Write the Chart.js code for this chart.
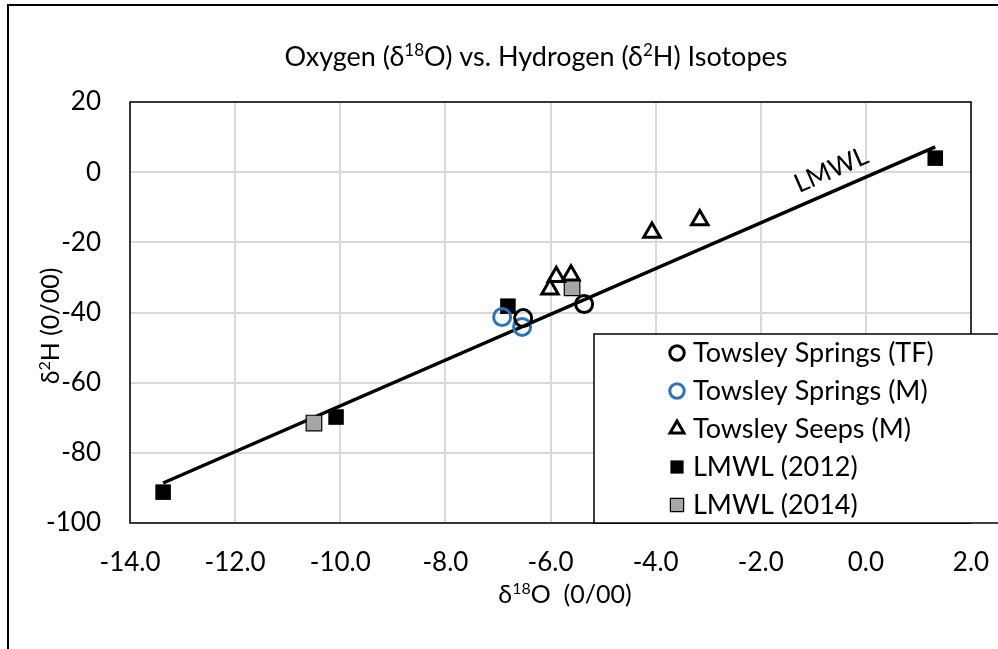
<!DOCTYPE html>
<html lang="en">
<head>
  <meta charset="UTF-8">
  <title>Oxygen vs. Hydrogen Isotopes</title>
  <script src="https://cdn.jsdelivr.net/npm/chart.js"></script>
  <style>
    html, body { margin: 0; padding: 0; background: #fff; }
  </style>
</head>
<body>
  <canvas id="isoChart" width="998" height="649"></canvas>

  <script>
    // values (d18O, d2H in per mil)
    const tfX = [-5.36, -6.52];
    const tfY = [-37.6, -41.6];

    const mX = [-6.92, -6.54];
    const mY = [-41.3, -44.1];

    const seepX = [-6.01, -5.89, -5.61, -4.07, -3.16];
    const seepY = [-33.4, -29.8, -29.4, -17.2, -13.6];

    const lmwl12X = [-13.37, -10.08, -6.81, 1.32];
    const lmwl12Y = [-91.2, -69.8, -38.2, 4.0];

    const lmwl14X = [-10.5, -5.59];
    const lmwl14Y = [-71.5, -33.0];

    // trendline end points
    const fitX = [-13.37, 1.32];
    const fitY = [-88.6, 7.2];

    const xTicks = [-14, -12, -10, -8, -6, -4, -2, 0, 2];
    const yTicks = [-100, -80, -60, -40, -20, 0, 20];

    const FONT = 'Lato';
    const BLUE = '#2e75b6';
    const GRAY = '#a6a6a6';

    const pts = (xs, ys) => xs.map((x, i) => ({ x: x, y: ys[i] }));

    // draw text with superscript parts: parts = [[text, isSup], ...]
    function richText(ctx, parts, x, y, size) {
      const big = size + 'px ' + FONT;
      const small = Math.round(size * 0.62) + 'px ' + FONT;
      let w = 0;
      parts.forEach(p => { ctx.font = p[1] ? small : big; w += ctx.measureText(p[0]).width; });
      let cx = x - w / 2;
      ctx.textAlign = 'left';
      ctx.textBaseline = 'alphabetic';
      parts.forEach(p => {
        ctx.font = p[1] ? small : big;
        ctx.fillText(p[0], cx, p[1] ? y - size * 0.36 : y);
        cx += ctx.measureText(p[0]).width;
      });
    }

    const decor = {
      id: 'decor',
      beforeDatasetsDraw(chart) {
        const { ctx, chartArea: a } = chart;
        ctx.save();
        ctx.strokeStyle = '#000';
        ctx.lineWidth = 1.5;
        ctx.strokeRect(a.left, a.top, a.right - a.left, a.bottom - a.top);
        ctx.restore();
      },
      afterDraw(chart) {
        const { ctx, chartArea: a } = chart;
        const xs = chart.scales.x, ys = chart.scales.y;
        ctx.save();

        // outer chart border
        ctx.strokeStyle = '#000';
        ctx.lineWidth = 2;
        ctx.strokeRect(8, 5, 1200, 1000);

        ctx.fillStyle = '#000';
        // title
        richText(ctx, [['Oxygen (δ', 0], ['18', 1], ['O) vs. Hydrogen (δ', 0], ['2', 1], ['H) Isotopes', 0]], 536, 66, 27);
        // x axis title
        richText(ctx, [['δ', 0], ['18', 1], ['O  (0/00)', 0]], 565, 603, 25);
        // y axis title
        ctx.save();
        ctx.translate(59, 326);
        ctx.rotate(-Math.PI / 2);
        richText(ctx, [['δ', 0], ['2', 1], ['H (0/00)', 0]], 0, 0, 25);
        ctx.restore();

        // label along the trendline
        const x0 = xs.getPixelForValue(fitX[0]), y0 = ys.getPixelForValue(fitY[0]);
        const x1 = xs.getPixelForValue(fitX[1]), y1 = ys.getPixelForValue(fitY[1]);
        ctx.save();
        ctx.translate(xs.getPixelForValue(-0.66), ys.getPixelForValue(0.6));
        ctx.rotate(Math.atan2(y1 - y0, x1 - x0));
        ctx.font = '26px ' + FONT;
        ctx.textAlign = 'center';
        ctx.textBaseline = 'middle';
        ctx.fillText('LMWL', 0, 0);
        ctx.restore();

        // legend box
        const lx = 594, ly = 334;
        ctx.fillStyle = '#fff';
        ctx.fillRect(lx, ly, 500, a.bottom - ly);
        ctx.strokeStyle = '#000';
        ctx.lineWidth = 1.5;
        ctx.strokeRect(lx, ly, 500, a.bottom - ly);

        const items = chart.data.datasets.filter(d => !d.noLegend);
        items.forEach((d, i) => {
          const y = 353 + i * 38;
          ctx.fillStyle = d.pointBackgroundColor;
          ctx.strokeStyle = d.pointBorderColor;
          ctx.lineWidth = d.pointBorderWidth;
          Chart.helpers.drawPoint(ctx, {
            pointStyle: d.pointStyle,
            radius: d.pointRadius * 0.85,
            rotation: 0,
            borderWidth: d.pointBorderWidth
          }, 677, y);
          ctx.fillStyle = '#000';
          ctx.font = '27px ' + FONT;
          ctx.textAlign = 'left';
          ctx.textBaseline = 'middle';
          ctx.fillText(d.label, 693, y);
        });

        ctx.restore();
      }
    };

    const ctx = document.getElementById('isoChart').getContext('2d');
    new Chart(ctx, {
      type: 'scatter',
      data: {
        datasets: [
          {
            label: 'Towsley Springs (TF)',
            data: pts(tfX, tfY),
            pointStyle: 'circle',
            pointRadius: 8.5,
            pointHoverRadius: 8.5,
            pointBorderWidth: 3,
            pointBorderColor: '#000',
            pointBackgroundColor: 'rgba(0,0,0,0)'
          },
          {
            label: 'Towsley Springs (M)',
            data: pts(mX, mY),
            pointStyle: 'circle',
            pointRadius: 8.5,
            pointHoverRadius: 8.5,
            pointBorderWidth: 3,
            pointBorderColor: BLUE,
            pointBackgroundColor: 'rgba(0,0,0,0)'
          },
          {
            label: 'Towsley Seeps (M)',
            data: pts(seepX, seepY),
            pointStyle: 'triangle',
            pointRadius: 9.5,
            pointHoverRadius: 9.5,
            pointBorderWidth: 3,
            pointBorderColor: '#000',
            pointBackgroundColor: 'rgba(0,0,0,0)'
          },
          {
            label: 'LMWL (2012)',
            data: pts(lmwl12X, lmwl12Y),
            pointStyle: 'rect',
            pointRadius: 11,
            pointHoverRadius: 11,
            pointBorderWidth: 0,
            pointBorderColor: '#000',
            pointBackgroundColor: '#000'
          },
          {
            label: 'LMWL (2014)',
            data: pts(lmwl14X, lmwl14Y),
            pointStyle: 'rect',
            pointRadius: 11,
            pointHoverRadius: 11,
            pointBorderWidth: 1.2,
            pointBorderColor: '#000',
            pointBackgroundColor: GRAY
          },
          {
            label: 'LMWL',
            type: 'line',
            noLegend: true,
            data: pts(fitX, fitY),
            borderColor: '#000',
            borderWidth: 3.5,
            pointRadius: 0,
            fill: false,
            tension: 0
          }
        ]
      },
      options: {
        responsive: false,
        animation: false,
        layout: { padding: { left: 9, right: 27, top: 102, bottom: 0 } },
        plugins: {
          legend: { display: false },
          title: { display: false },
          tooltip: { enabled: false }
        },
        scales: {
          x: {
            type: 'linear',
            min: -14,
            max: 2,
            afterBuildTicks: s => { s.ticks = xTicks.map(v => ({ value: v })); },
            afterFit: s => { s.height = 126; s.paddingLeft = 0; s.paddingRight = 0; },
            ticks: {
              padding: 24,
              color: '#000',
              font: { family: FONT, size: 26 },
              maxRotation: 0,
              callback: v => v.toFixed(1)
            },
            grid: { color: '#d9d9d9', lineWidth: 2, drawTicks: false },
            border: { display: false }
          },
          y: {
            type: 'linear',
            min: -100,
            max: 20,
            afterBuildTicks: s => { s.ticks = yTicks.map(v => ({ value: v })); },
            afterFit: s => { s.width = 121; s.paddingTop = 0; s.paddingBottom = 0; },
            ticks: {
              padding: 29,
              color: '#000',
              font: { family: FONT, size: 26 }
            },
            grid: { color: '#d9d9d9', lineWidth: 2, drawTicks: false },
            border: { display: false }
          }
        }
      },
      plugins: [decor]
    });
  </script>
</body>
</html>
